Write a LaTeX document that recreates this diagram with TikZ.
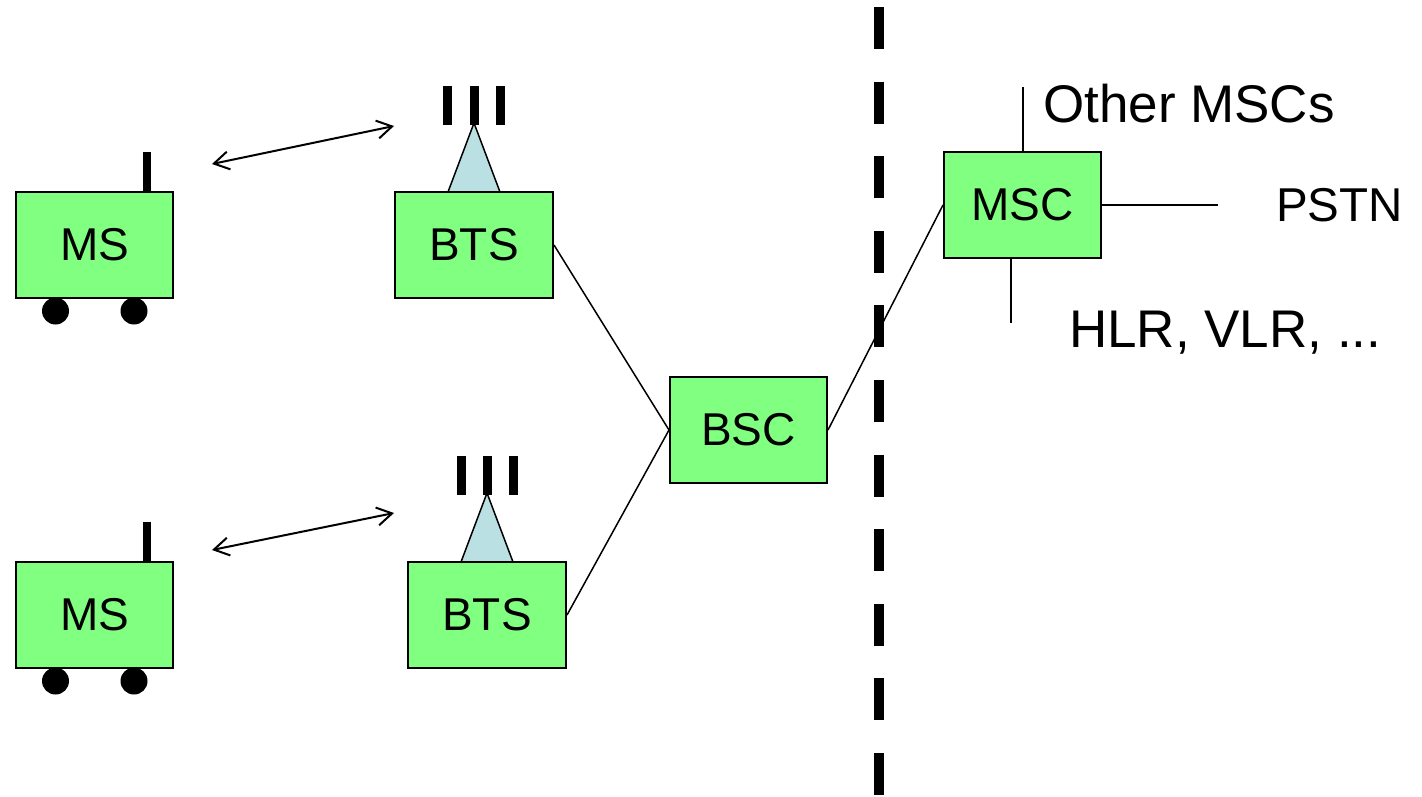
\documentclass[tikz,border=0pt]{standalone}
\usepackage{fontspec}
\setmainfont{Liberation Sans}
\usetikzlibrary{arrows.meta,calc}
\definecolor{boxgreen}{RGB}{128,255,128}
\definecolor{antblue}{RGB}{187,224,227}
\begin{document}
\begin{tikzpicture}[x=1pt,y=-1pt,
  netbox/.style={draw=black,line width=2pt,fill=boxgreen,minimum width=157pt,minimum height=106pt,inner sep=0pt,font=\fontsize{46}{55}\selectfont},
  link/.style={line width=1.5pt},
  radio/.style={line width=2pt,{Straight Barb[length=15pt,width=18pt]}-{Straight Barb[length=15pt,width=18pt]}},
  outtext/.style={font=\fontsize{53}{62}\selectfont,inner sep=0pt,anchor=base west},
  antbar/.style={line width=9pt},
  mastbar/.style={line width=8pt},
  wheel/.style={fill=black},
  mast/.style={draw=black,line width=1.5pt,fill=antblue,line join=round},
  border/.style={line width=10pt,dash pattern=on 42pt off 32.6pt}
]
\useasboundingbox (0,0) rectangle (1422,797);

% mobile stations
\node[netbox] (ms1) at (94.5,245) {MS};
\node[netbox] (ms2) at (94.5,615) {MS};
\draw[mastbar] (147,192) -- (147,152);
\draw[mastbar] (147,562) -- (147,522);
\fill[wheel] (55.5,311) circle[radius=13.5pt];
\fill[wheel] (134,311) circle[radius=13.5pt];
\fill[wheel] (55.5,681) circle[radius=13.5pt];
\fill[wheel] (134,681) circle[radius=13.5pt];

% base transceiver stations
\draw[mast] (448,192) -- (474,123) -- (500,192) -- cycle;
\draw[mast] (461,562) -- (487,493) -- (513,562) -- cycle;
\node[netbox,minimum width=158pt] (bts1) at (474,245) {BTS};
\node[netbox,minimum width=158pt] (bts2) at (487,615) {BTS};
\draw[antbar] (447,86) -- (447,125);
\draw[antbar] (474,86) -- (474,125);
\draw[antbar] (500,86) -- (500,125);
\draw[antbar] (461,456) -- (461,495);
\draw[antbar] (487,456) -- (487,495);
\draw[antbar] (513,456) -- (513,495);

% controllers
\node[netbox] (bsc) at (748.5,430) {BSC};
\node[netbox] (msc) at (1022.5,205) {MSC};

% radio links
\coordinate (r1a) at (212,164);
\coordinate (r1b) at (394,126);
\coordinate (r2a) at (212,550);
\coordinate (r2b) at (394,513);
\draw[radio] (r1a) -- (r1b);
\draw[radio] (r2a) -- (r2b);

% wired links
\draw[link] (bts1.east) -- (bsc.west);
\draw[link] (bts2.east) -- (bsc.west);
\draw[link] (bsc.east) -- (msc.west);

% border
\coordinate (b1) at (879,7);
\coordinate (b2) at (879,797);
\draw[border] (b1) -- (b2);

% MSC connections
\coordinate (oth) at (1023,87);
\coordinate (pst) at (1218,205);
\coordinate (hlr) at (1011,323);
\draw[link] (msc.north -| oth) -- (oth);
\draw[link] (msc.east) -- (pst);
\draw[link] (msc.south -| hlr) -- (hlr);

\node[outtext] (tother) at (1043,123) {Other MSCs};
\node[outtext,font=\fontsize{47.5}{57}\selectfont] (tpstn) at (1276,222) {PSTN};
\node[outtext] (thlr) at (1069,347) {HLR, VLR, ...};
\end{tikzpicture}
\end{document}
